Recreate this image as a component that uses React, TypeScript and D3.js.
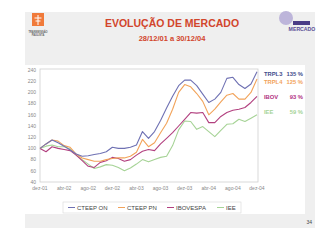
import { useEffect, useRef } from "react";
import * as d3 from "d3";

const months = [
  "dez-01","jan-02","fev-02","mar-02","abr-02","mai-02","jun-02","jul-02","ago-02","set-02","out-02","nov-02",
  "dez-02","jan-03","fev-03","mar-03","abr-03","mai-03","jun-03","jul-03","ago-03","set-03","out-03","nov-03",
  "dez-03","jan-04","fev-04","mar-04","abr-04","mai-04","jun-04","jul-04","ago-04","set-04","out-04","nov-04","dez-04",
];
const tickMonths = ["dez-01","abr-02","ago-02","dez-02","abr-03","ago-03","dez-03","abr-04","ago-04","dez-04"];
const yTicks = [40, 60, 80, 100, 120, 140, 160, 180, 200, 220, 240];

const trpl3 = [100,108,115,110,104,97,90,86,87,89,91,94,102,100,100,102,106,130,118,130,150,172,193,212,222,222,212,197,182,188,200,225,227,214,207,215,237];
const trpl4 = [100,108,115,113,105,102,90,83,80,77,77,80,82,83,83,86,93,116,103,110,128,145,170,200,214,210,198,184,160,170,183,195,198,188,188,200,224];
const ibov  = [100,94,103,100,98,96,88,78,68,66,75,78,84,82,77,80,88,95,98,96,108,118,128,140,152,164,163,164,146,146,157,164,168,170,173,182,193];
const iee   = [100,104,106,103,103,99,88,80,72,64,67,71,70,66,60,65,72,80,76,80,84,86,105,133,149,148,134,139,130,121,132,143,144,152,148,154,160];

const seriesNames = ["CTEEP ON", "CTEEP PN", "IBOVESPA", "IEE"];
const sideLabels = ["TRPL3", "TRPL4", "IBOV", "IEE"];
const sidePct = ["135 %", "125 %", "93 %", "59 %"];
const colors = ["#6f71b3", "#f2a35a", "#b2407f", "#a6d396"];
const labelColors = ["#3f4d8c", "#f2a35a", "#b2307f", "#a6d396"];

export default function App() {
  const ref = useRef<SVGSVGElement>(null);

  useEffect(() => {
    const svg = d3.select(ref.current);
    svg.selectAll("*").remove();
    const font = "Liberation Sans, Arial, sans-serif";

    // slide background
    svg.append("rect").attr("width", 320).attr("height", 247).attr("fill", "#fff");
    svg.append("rect").attr("x", 25).attr("y", 12).attr("width", 290).attr("height", 216).attr("fill", "#efefef");
    svg.append("rect").attr("x", 25).attr("y", 65).attr("width", 280).attr("height", 149).attr("fill", "#fff");

    // logos
    svg.append("rect").attr("x", 32).attr("y", 13).attr("width", 12).attr("height", 13).attr("fill", "#f07a3a");
    svg.append("path").attr("d", "M38,15 V25 M34.5,18 H41.5 M35.5,21 H40.5").attr("stroke", "#fff").attr("stroke-width", 1);
    svg.append("text").attr("x", 38).attr("y", 33).attr("text-anchor", "middle").attr("font-family", font)
      .attr("font-size", 2.6).attr("font-weight", 700).attr("fill", "#666").text("TRANSMISSÃO");
    svg.append("text").attr("x", 38).attr("y", 36).attr("text-anchor", "middle").attr("font-family", font)
      .attr("font-size", 2.6).attr("font-weight", 700).attr("fill", "#666").text("PAULISTA");
    svg.append("circle").attr("cx", 286).attr("cy", 18).attr("r", 7).attr("fill", "#bdb5da");
    svg.append("rect").attr("x", 293).attr("y", 21).attr("width", 17).attr("height", 4).attr("fill", "#4b3d86");
    svg.append("text").attr("x", 302).attr("y", 30.5).attr("text-anchor", "middle").attr("font-family", font)
      .attr("font-size", 5.2).attr("font-weight", 700).attr("fill", "#5a4d96").text("MERCADO");

    // title
    svg.append("text").attr("x", 172).attr("y", 27).attr("text-anchor", "middle").attr("font-family", font)
      .attr("font-size", 10.5).attr("font-weight", 700).attr("fill", "#d2452c").text("EVOLUÇÃO DE MERCADO");
    svg.append("text").attr("x", 172).attr("y", 41).attr("text-anchor", "middle").attr("font-family", font)
      .attr("font-size", 7.5).attr("font-weight", 700).attr("fill", "#d2452c").text("28/12/01 a 30/12/04");

    const left = 40, right = 257, top = 70, bottom = 182;
    const x = d3.scalePoint<string>().domain(months).range([left, right]);
    const y = d3.scaleLinear().domain([40, 240]).range([bottom, top]);

    svg.append("rect").attr("x", left).attr("y", top - 1).attr("width", right - left + 1).attr("height", bottom - top + 1)
      .attr("fill", "#fff").attr("stroke", "#cfcfcf").attr("stroke-width", 0.8);

    svg.append("g").selectAll("text").data(yTicks).join("text")
      .attr("x", 36).attr("y", d => y(d) + 1.8).attr("text-anchor", "end")
      .attr("font-family", font).attr("font-size", 5).attr("fill", "#888").text(d => d);
    svg.append("g").selectAll("text").data(tickMonths).join("text")
      .attr("x", d => x(d)!).attr("y", bottom + 8).attr("text-anchor", "middle")
      .attr("font-family", font).attr("font-size", 5).attr("fill", "#888").text(d => d);

    const line = d3.line<number>().x((_, i) => x(months[i])!).y(d => y(d));
    const all = [trpl3, trpl4, ibov, iee];
    [3, 2, 1, 0].forEach(k => {
      svg.append("path").attr("d", line(all[k])!).attr("fill", "none")
        .attr("stroke", colors[k]).attr("stroke-width", 1.1).attr("stroke-linejoin", "round");
    });

    // side labels
    const sideY = [76, 84, 99, 114];
    sideLabels.forEach((s, i) => {
      svg.append("text").attr("x", 264).attr("y", sideY[i]).attr("font-family", font).attr("font-size", 5.8)
        .attr("font-weight", 700).attr("fill", labelColors[i]).text(s);
      svg.append("text").attr("x", 303).attr("y", sideY[i]).attr("text-anchor", "end").attr("font-family", font)
        .attr("font-size", 5.8).attr("font-weight", 700).attr("fill", labelColors[i]).text(sidePct[i]);
    });

    // legend box
    svg.append("rect").attr("x", 63).attr("y", 202).attr("width", 178).attr("height", 11)
      .attr("fill", "#fff").attr("stroke", "#d8d8d8").attr("stroke-width", 0.6);
    const legX = [68, 118, 167, 217];
    seriesNames.forEach((s, i) => {
      svg.append("line").attr("x1", legX[i]).attr("x2", legX[i] + 7).attr("y1", 207.5).attr("y2", 207.5)
        .attr("stroke", colors[i]).attr("stroke-width", 1);
      svg.append("text").attr("x", legX[i] + 9).attr("y", 209.8).attr("font-family", font).attr("font-size", 6)
        .attr("fill", "#444").text(s);
    });

    svg.append("text").attr("x", 312).attr("y", 224).attr("text-anchor", "end").attr("font-family", font)
      .attr("font-size", 5).attr("fill", "#444").text("34");
  }, []);

  return (
    <div style={{ position: "absolute", left: 0, top: 0 }}>
      <svg ref={ref} width={320} height={247} style={{ display: "block" }} />
    </div>
  );
}
